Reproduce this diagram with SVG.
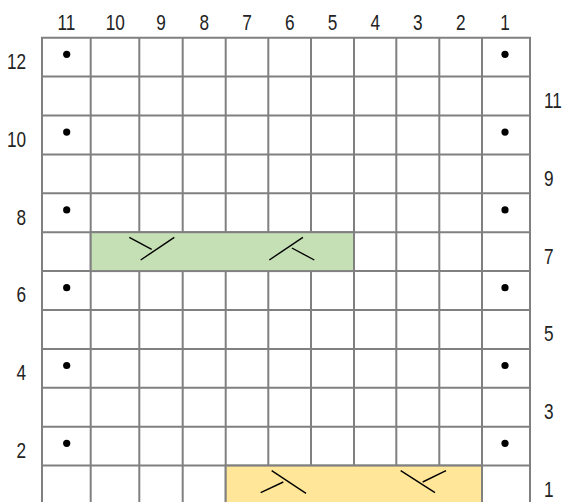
<svg xmlns="http://www.w3.org/2000/svg" width="563" height="502" viewBox="0 0 563 502">
<style>
.bg{fill:#ffffff}
.grid line{stroke:#808080;stroke-width:2}
.band{stroke:#808080;stroke-width:2}
.green{fill:#c5e0b4}
.yellow{fill:#ffe699}
.dot{fill:#000000}
.sym line{stroke:#000000;stroke-width:1.4;stroke-linecap:butt}
text{font-family:"Liberation Sans",Arial,sans-serif;font-size:21.5px;fill:#222222}
.mid{text-anchor:middle}
.end{text-anchor:end}
</style>
<rect class="bg" x="0" y="0" width="563" height="502"/>
<g id="grid" class="grid">
<line x1="42" y1="37.7" x2="42" y2="502"/>
<line x1="90.7" y1="37.7" x2="90.7" y2="502"/>
<line x1="139.3" y1="37.7" x2="139.3" y2="502"/>
<line x1="182.7" y1="37.7" x2="182.7" y2="502"/>
<line x1="225.7" y1="37.7" x2="225.7" y2="502"/>
<line x1="268.3" y1="37.7" x2="268.3" y2="502"/>
<line x1="311" y1="37.7" x2="311" y2="502"/>
<line x1="354" y1="37.7" x2="354" y2="502"/>
<line x1="396.3" y1="37.7" x2="396.3" y2="502"/>
<line x1="439.3" y1="37.7" x2="439.3" y2="502"/>
<line x1="482" y1="37.7" x2="482" y2="502"/>
<line x1="530" y1="37.7" x2="530" y2="502"/>
<line x1="41" y1="37.7" x2="531" y2="37.7"/>
<line x1="41" y1="76.6" x2="531" y2="76.6"/>
<line x1="41" y1="115.5" x2="531" y2="115.5"/>
<line x1="41" y1="154.4" x2="531" y2="154.4"/>
<line x1="41" y1="193.3" x2="531" y2="193.3"/>
<line x1="41" y1="232.2" x2="531" y2="232.2"/>
<line x1="41" y1="271.1" x2="531" y2="271.1"/>
<line x1="41" y1="310" x2="531" y2="310"/>
<line x1="41" y1="348.9" x2="531" y2="348.9"/>
<line x1="41" y1="387.8" x2="531" y2="387.8"/>
<line x1="41" y1="426.7" x2="531" y2="426.7"/>
<line x1="41" y1="465.6" x2="531" y2="465.6"/>
</g>
<g id="band-row7">
<rect class="band green" x="90.7" y="232.2" width="263.3" height="38.9"/>
</g>
<g id="band-row1">
<rect class="band yellow" x="225.7" y="465.6" width="256.3" height="40"/>
</g>
<g id="symbols" class="sym">
<g id="cable-row7-a">
<line x1="174.3" y1="237.3" x2="140.7" y2="260"/>
<line x1="129.3" y1="237.3" x2="151.7" y2="249.3"/>
</g>
<g id="cable-row7-b">
<line x1="269.3" y1="260" x2="302.9" y2="237.3"/>
<line x1="314.3" y1="260" x2="291.9" y2="248"/>
</g>
<g id="cable-row1-a">
<line x1="271.7" y1="470.7" x2="306" y2="493.3"/>
<line x1="260.7" y1="492.7" x2="283.3" y2="482"/>
</g>
<g id="cable-row1-b">
<line x1="400.7" y1="470.7" x2="435" y2="492.7"/>
<line x1="422.7" y1="482" x2="446" y2="470.7"/>
</g>
</g>
<g id="dots">
<circle class="dot" cx="66.7" cy="54.3" r="3.6"/>
<circle class="dot" cx="505" cy="54.3" r="3.6"/>
<circle class="dot" cx="66.7" cy="132.1" r="3.6"/>
<circle class="dot" cx="505" cy="132.1" r="3.6"/>
<circle class="dot" cx="66.7" cy="209.9" r="3.6"/>
<circle class="dot" cx="505" cy="209.9" r="3.6"/>
<circle class="dot" cx="66.7" cy="287.7" r="3.6"/>
<circle class="dot" cx="505" cy="287.7" r="3.6"/>
<circle class="dot" cx="66.7" cy="365.5" r="3.6"/>
<circle class="dot" cx="505" cy="365.5" r="3.6"/>
<circle class="dot" cx="66.7" cy="443.3" r="3.6"/>
<circle class="dot" cx="505" cy="443.3" r="3.6"/>
</g>
<g id="column-labels">
<text class="mid" transform="translate(66.4,30) scale(0.8,1)">11</text>
<text class="mid" transform="translate(115.2,30) scale(0.8,1)">10</text>
<text class="mid" transform="translate(161,30) scale(0.8,1)">9</text>
<text class="mid" transform="translate(204.2,30) scale(0.8,1)">8</text>
<text class="mid" transform="translate(247,30) scale(0.8,1)">7</text>
<text class="mid" transform="translate(289.7,30) scale(0.8,1)">6</text>
<text class="mid" transform="translate(332.5,30) scale(0.8,1)">5</text>
<text class="mid" transform="translate(375.2,30) scale(0.8,1)">4</text>
<text class="mid" transform="translate(417.8,30) scale(0.8,1)">3</text>
<text class="mid" transform="translate(460.7,30) scale(0.8,1)">2</text>
<text class="mid" transform="translate(505,30) scale(0.8,1)">1</text>
</g>
<g id="row-labels-left">
<text class="end" transform="translate(26,69) scale(0.8,1)">12</text>
<text class="end" transform="translate(26,146.8) scale(0.8,1)">10</text>
<text class="end" transform="translate(26,224.6) scale(0.8,1)">8</text>
<text class="end" transform="translate(26,302.4) scale(0.8,1)">6</text>
<text class="end" transform="translate(26,380.2) scale(0.8,1)">4</text>
<text class="end" transform="translate(26,458) scale(0.8,1)">2</text>
</g>
<g id="row-labels-right">
<text transform="translate(544,108) scale(0.8,1)">11</text>
<text transform="translate(544,185.8) scale(0.8,1)">9</text>
<text transform="translate(544,263.6) scale(0.8,1)">7</text>
<text transform="translate(544,341.4) scale(0.8,1)">5</text>
<text transform="translate(544,419.2) scale(0.8,1)">3</text>
<text transform="translate(544,497) scale(0.8,1)">1</text>
</g>
</svg>
